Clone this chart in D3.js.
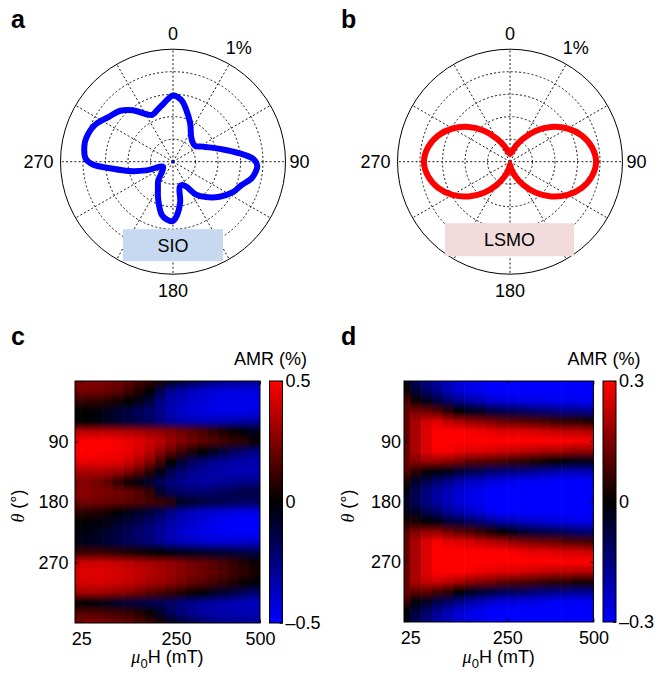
<!DOCTYPE html>
<html><head><meta charset="utf-8">
<script src="https://cdn.jsdelivr.net/npm/d3@7"></script>
<style>
body{margin:0;background:#fff}
svg{display:block}
text{font-family:"Liberation Sans",Arial,Helvetica,sans-serif;fill:#000}
</style>
</head><body>
<svg id="chart" width="661" height="676"></svg>
<script>
// ---------------- DATA ----------------
// polar panels (angle in degrees, clockwise from top; AMR in %)
const ringValues = [0.2, 0.4, 0.6, 0.8];
const ringMax = 1;
const ringLabel = "1%";
const angleTicks = [0, 90, 180, 270];

const sioAngles = [0, 8, 14, 24, 35, 43, 54, 63, 70, 78, 84, 88, 93, 97, 102, 109, 117, 127, 137, 145,
  152, 158, 165, 170, 176, 180, 186, 192, 201, 210, 218, 225, 243, 252, 258, 264, 268, 272, 280, 285,
  295, 305, 314, 322, 330, 336, 343, 350, 356];
const sioValues = [0.589, 0.55, 0.48, 0.375, 0.28, 0.25, 0.24, 0.295, 0.366, 0.49, 0.625, 0.714, 0.75, 0.74, 0.714, 0.643, 0.598, 0.518, 0.43, 0.357,
  0.25, 0.223, 0.232, 0.366, 0.482, 0.527, 0.518, 0.482, 0.366, 0.268, 0.214, 0.147, 0.10, 0.25, 0.40, 0.56, 0.714, 0.777, 0.80, 0.80,
  0.768, 0.696, 0.652, 0.58, 0.49, 0.455, 0.48, 0.518, 0.563];

const lsmoAngles = [0, 10, 20, 30, 40, 50, 60, 70, 80, 90, 100, 110, 120, 130, 140, 150, 160, 170,
  180, 190, 200, 210, 220, 230, 240, 250, 260, 270, 280, 290, 300, 310, 320, 330, 340, 350];
const lsmoValues = [0.07, 0.09, 0.15, 0.24, 0.36, 0.48, 0.59, 0.68, 0.74, 0.765, 0.74, 0.68, 0.59, 0.48, 0.36, 0.24, 0.14, 0.07,
  0.03, 0.07, 0.14, 0.24, 0.36, 0.48, 0.59, 0.68, 0.74, 0.765, 0.74, 0.68, 0.59, 0.48, 0.36, 0.24, 0.15, 0.09];

// heat maps: field column edges (mT), angle rows (deg), AMR in 0.01 %
const fieldEdges = [0, 25, 50, 75, 100, 125, 150, 175, 200, 225, 250, 281.25, 312.5, 343.75, 375, 406.25, 437.5, 468.75, 500];
const fieldTicks = [25, 250, 500];
const thetaRows = [0, 15, 30, 45, 60, 75, 90, 105, 120, 135, 150, 165, 180, 195, 210, 225, 240, 255, 270, 285, 300, 315, 330, 345, 360];
const thetaTicks = [90, 180, 270];

const amrSIO = [
  [25, 22, 10, 0, 0, 35, 48, 50, 45, 32, 24, 26, 22, 8, 0, -3, -4, 10, 38, 42, 40, 30, 0, 15, 25],
  [26, 23, 10, 0, 0, 36, 50, 50, 46, 33, 25, 27, 23, 8, 0, -4, -5, 12, 40, 44, 42, 32, 0, 16, 26],
  [25, 22, 9, -2, -3, 36, 50, 50, 46, 34, 22, 25, 22, 6, -2, -6, -8, 12, 40, 44, 42, 32, -2, 15, 25],
  [24, 20, 7, -6, -6, 36, 50, 49, 45, 32, 18, 24, 21, 4, -4, -9, -11, 10, 40, 43, 41, 30, -5, 14, 24],
  [22, 18, 4, -10, -9, 35, 48, 48, 44, 30, 10, 22, 20, 0, -8, -13, -14, 8, 38, 42, 40, 28, -8, 12, 22],
  [18, 12, 0, -14, -12, 34, 46, 46, 40, 25, 2, 20, 18, -4, -12, -17, -17, 6, 36, 40, 38, 25, -11, 10, 20],
  [14, 6, -5, -18, -15, 32, 44, 42, 34, 18, -4, 16, 16, -8, -16, -21, -20, 4, 34, 38, 35, 22, -13, 6, 16],
  [10, 0, -12, -22, -18, 30, 40, 36, 26, 8, -10, 10, 14, -12, -20, -25, -23, 2, 32, 36, 32, 18, -15, 2, 12],
  [5, -15, -25, -28, -24, 28, 36, 28, 14, -4, -18, -8, 12, -18, -26, -30, -28, 0, 30, 33, 30, 14, -17, -8, 5],
  [-5, -28, -33, -35, -30, 25, 30, 20, 0, -15, -24, -18, 8, -26, -32, -36, -33, -3, 28, 30, 27, 10, -20, -18, -5],
  [-10, -33, -37, -39, -33, 22, 26, 12, -10, -22, -27, -20, -5, -32, -37, -40, -36, -5, 25, 27, 24, 6, -24, -24, -10],
  [-15, -37, -40, -42, -35, 18, 22, 6, -18, -27, -30, -22, -8, -36, -40, -43, -38, -6, 22, 24, 20, 2, -27, -28, -15],
  [-20, -40, -42, -44, -36, 14, 19, 0, -23, -30, -32, -22, -12, -39, -43, -45, -40, -8, 20, 22, 17, -2, -30, -31, -20],
  [-24, -42, -44, -45, -36, 10, 16, -6, -27, -32, -32, -20, -14, -41, -46, -47, -41, -9, 17, 19, 14, -6, -32, -33, -24],
  [-27, -43, -45, -46, -35, 6, 13, -12, -30, -34, -30, -18, -15, -43, -48, -48, -41, -10, 14, 16, 10, -10, -34, -34, -27],
  [-28, -44, -46, -46, -34, 2, 10, -18, -32, -35, -28, -16, -17, -44, -49, -49, -41, -12, 10, 12, 6, -14, -35, -35, -28],
  [-29, -44, -46, -46, -33, -2, 8, -22, -33, -35, -27, -14, -18, -45, -50, -49, -40, -13, 6, 9, 2, -18, -36, -35, -29],
  [-30, -44, -46, -45, -32, -6, 2, -26, -34, -35, -26, -13, -19, -45, -50, -49, -39, -14, 2, 5, -2, -22, -37, -35, -30]
];

const amrLSMO = [
  [-3, 2, 9, 12, 12, 12, 12, 12, 12, 10, 3, -2, -5, -2, 3, 10, 12, 12, 12, 12, 12, 12, 6, -1, -3],
  [-10, -6, 2, 14, 20, 20, 20, 20, 16, 5, -5, -9, -10, -5, 3, 15, 20, 20, 20, 20, 20, 11, -1, -7, -10],
  [-15, -12, -3, 13, 24, 26, 26, 26, 18, 1, -9, -15, -15, -10, 0, 17, 26, 26, 26, 26, 23, 11, -4, -12, -15],
  [-19, -16, -7, 10, 26, 30, 30, 29, 18, -1, -13, -19, -19, -13, -2, 17, 29, 30, 30, 30, 24, 8, -9, -17, -19],
  [-22, -21, -12, 5, 22, 30, 30, 29, 16, -3, -16, -22, -22, -18, -6, 14, 27, 30, 30, 30, 22, 5, -12, -21, -22],
  [-25, -25, -16, 0, 20, 30, 30, 27, 14, -6, -20, -25, -25, -21, -8, 11, 26, 30, 30, 30, 20, 0, -16, -25, -25],
  [-27, -27, -19, -3, 17, 29, 30, 26, 11, -9, -23, -27, -27, -24, -11, 9, 25, 30, 30, 29, 17, -3, -19, -27, -27],
  [-28, -28, -21, -4, 16, 28, 30, 26, 10, -10, -24, -28, -28, -26, -14, 6, 23, 30, 30, 28, 15, -6, -22, -28, -28],
  [-30, -30, -24, -8, 14, 27, 30, 25, 9, -13, -26, -30, -30, -29, -17, 3, 21, 30, 30, 27, 14, -8, -24, -30, -30],
  [-30, -30, -25, -9, 12, 26, 30, 24, 8, -14, -27, -30, -30, -30, -20, 0, 20, 30, 30, 26, 11, -10, -26, -30, -30],
  [-30, -30, -26, -10, 11, 26, 30, 23, 6, -15, -28, -30, -30, -30, -21, -3, 17, 29, 30, 26, 10, -11, -26, -30, -30],
  [-30, -30, -27, -11, 10, 26, 30, 22, 5, -16, -29, -30, -30, -30, -23, -6, 15, 28, 30, 25, 9, -12, -27, -30, -30],
  [-30, -30, -27, -13, 9, 25, 30, 21, 3, -17, -29, -30, -30, -30, -24, -8, 14, 27, 30, 24, 8, -14, -27, -30, -30],
  [-30, -30, -27, -14, 8, 24, 30, 20, 2, -19, -29, -30, -30, -30, -25, -9, 13, 27, 30, 23, 6, -15, -28, -30, -30],
  [-30, -30, -28, -15, 6, 23, 30, 20, 0, -20, -30, -30, -30, -30, -26, -10, 12, 26, 30, 22, 5, -16, -29, -30, -30],
  [-30, -30, -28, -16, 5, 22, 30, 18, -1, -21, -30, -30, -30, -30, -26, -11, 10, 25, 30, 22, 5, -16, -29, -30, -30],
  [-30, -30, -28, -16, 5, 22, 29, 17, -3, -21, -30, -30, -30, -30, -27, -13, 9, 25, 30, 21, 3, -17, -29, -30, -30],
  [-30, -30, -29, -17, 3, 21, 29, 17, -3, -21, -30, -30, -30, -30, -27, -14, 8, 24, 30, 21, 3, -17, -29, -30, -30]
];

// ---------------- DRAWING ----------------
const svg = d3.select("#chart");
const FONT = 18;
const rad = d => d * Math.PI / 180;

function panelLetter(t, x, y) {
  svg.append("text").attr("x", x).attr("y", y).attr("font-size", 25).attr("font-weight", "bold").text(t);
}

function polarPanel(cfg) {
  const {cx, cy, R, angles, values, color, label, boxFill, box} = cfg;
  const g = svg.append("g").attr("transform", `translate(${cx},${cy})`);
  const r = d3.scaleLinear().domain([0, ringMax]).range([0, R]);
  const dotted = sel => sel.attr("fill", "none").attr("stroke", "#000").attr("stroke-width", 0.9).attr("stroke-dasharray", "2,2.2");
  ringValues.forEach(v => g.append("circle").attr("r", r(v)).call(dotted));
  d3.range(0, 360, 30).forEach(a => {
    g.append("line").attr("x1", 0).attr("y1", 0)
      .attr("x2", r(ringMax) * Math.sin(rad(a))).attr("y2", -r(ringMax) * Math.cos(rad(a))).call(dotted);
  });
  g.append("circle").attr("r", r(ringMax)).attr("fill", "none").attr("stroke", "#000").attr("stroke-width", 1);
  // label box
  g.append("rect").attr("x", box[0]).attr("y", box[1]).attr("width", box[2]).attr("height", box[3]).attr("fill", boxFill);
  g.append("text").attr("x", box[0] + box[2] / 2).attr("y", box[1] + box[3] / 2).attr("dy", "0.36em")
    .attr("text-anchor", "middle").attr("font-size", FONT).text(label);
  // curve
  const pts = angles.map((a, i) => [rad(a), r(values[i])]);
  const line = d3.lineRadial().angle(d => d[0]).radius(d => d[1]).curve(d3.curveCatmullRomClosed.alpha(0.5));
  g.append("path").attr("d", line(pts)).attr("fill", "none").attr("stroke", color)
    .attr("stroke-width", 6).attr("stroke-linejoin", "round");
  g.append("circle").attr("r", 1.4).attr("fill", color);
  // angle labels
  const lab = (t, x, y, anchor) => g.append("text").attr("x", x).attr("y", y).attr("text-anchor", anchor).attr("font-size", FONT).text(t);
  lab(String(angleTicks[0]), 0, -R - 9, "middle");
  lab(String(angleTicks[1]), R + 4, 6.6, "start");
  lab(String(angleTicks[2]), 0, R + 23, "middle");
  lab(String(angleTicks[3]), -R - 7, 6.6, "end");
  // ring label at 30 deg
  const lr = R + 19;
  g.append("text").attr("x", lr * Math.sin(rad(30))).attr("y", -lr * Math.cos(rad(30))).attr("dy", "0.36em")
    .attr("text-anchor", "middle").attr("font-size", FONT).text(ringLabel);
}

polarPanel({cx: 173, cy: 161.7, R: 112.5, angles: sioAngles, values: sioValues, color: "#0000ff",
  label: "SIO", boxFill: "#c6d9f0", box: [-50, 67.5, 100, 32]});
polarPanel({cx: 510, cy: 161.7, R: 112.5, angles: lsmoAngles, values: lsmoValues, color: "#ff0000",
  label: "LSMO", boxFill: "#f2dcdb", box: [-65, 61.5, 129, 33]});
panelLetter("a", 11, 28);
panelLetter("b", 341, 28);

function heatPanel(cfg) {
  const {id, left, top, width, height, matrix, vmax, yPad, cbLeft, cbWidth, cbTicks, cbLabels, ylabX} = cfg;
  const w0 = 6.3, cw = (width - w0) / 17;
  const x = d3.scaleLinear().domain([0, 25, 250, 500]).range([left, left + w0, left + w0 + 9 * cw, left + width]);
  const y = d3.scaleLinear().domain([0, 360]).range([top, top + height]);
  const color = d3.scaleLinear().domain([-vmax, 0, vmax]).range(["#0000ff", "#000000", "#ff0000"]);
  const defs = svg.append("defs");
  matrix.forEach((col, i) => {
    const gid = `${id}c${i}`;
    const grad = defs.append("linearGradient").attr("id", gid).attr("x1", 0).attr("y1", 0).attr("x2", 0).attr("y2", 1);
    col.forEach((v, j) => grad.append("stop").attr("offset", thetaRows[j] / 360).attr("stop-color", color(v / 100)));
    const xa = x(fieldEdges[i]), xb = x(fieldEdges[i + 1]);
    svg.append("rect").attr("x", xa).attr("y", y(0)).attr("width", xb - xa + (i < matrix.length - 1 ? 0.6 : 0))
      .attr("height", y(360) - y(0)).attr("fill", `url(#${gid})`);
  });
  const styleAxis = g => { g.select(".domain").remove(); g.attr("font-size", FONT).attr("font-family", null); g.selectAll("line").attr("stroke-width", 0.8); };
  svg.append("g").attr("transform", `translate(${left},0)`)
    .call(d3.axisLeft(y).tickValues(thetaTicks).tickSize(-3.5).tickPadding(yPad)).call(styleAxis);
  svg.append("g").attr("transform", `translate(${left + width},0)`)
    .call(d3.axisRight(y).tickValues(thetaTicks).tickSize(-3.5).tickFormat("")).call(styleAxis);
  svg.append("g").attr("transform", `translate(0,${top + height})`)
    .call(d3.axisBottom(x).tickValues(fieldTicks).tickSize(-3.5).tickPadding(9).tickFormat(d3.format("d"))).call(styleAxis);
  svg.append("g").attr("transform", `translate(0,${top})`)
    .call(d3.axisTop(x).tickValues(fieldTicks).tickSize(-3.5).tickFormat("")).call(styleAxis);
  svg.append("rect").attr("x", left).attr("y", top).attr("width", width).attr("height", height)
    .attr("fill", "none").attr("stroke", "#000").attr("stroke-width", 1);
  // colorbar
  const cbg = defs.append("linearGradient").attr("id", `${id}cb`).attr("x1", 0).attr("y1", 0).attr("x2", 0).attr("y2", 1);
  [vmax, 0, -vmax].forEach((v, j) => cbg.append("stop").attr("offset", j / 2).attr("stop-color", color(v)));
  const cy = d3.scaleLinear().domain([-vmax, vmax]).range([top + height, top]);
  svg.append("rect").attr("x", cbLeft).attr("y", top).attr("width", cbWidth).attr("height", height)
    .attr("fill", `url(#${id}cb)`).attr("stroke", "#000").attr("stroke-width", 1);
  svg.append("g").attr("transform", `translate(${cbLeft + cbWidth},0)`)
    .call(d3.axisRight(cy).tickValues(cbTicks).tickSize(-3).tickPadding(3).tickFormat((d, i) => cbLabels[i])).call(styleAxis);
  svg.append("text").attr("x", cbLeft + 1).attr("y", top - 16).attr("text-anchor", "middle").attr("font-size", FONT).text("AMR (%)");
  // axis labels
  const xl = svg.append("text").attr("x", left + width / 2).attr("y", 663).attr("text-anchor", "middle").attr("font-size", FONT);
  xl.append("tspan").attr("font-family", "'Liberation Serif','Times New Roman',serif").attr("font-style", "italic").text("\u03bc");
  xl.append("tspan").attr("font-size", 13).attr("dy", 5).text("0");
  xl.append("tspan").attr("dy", -5).text("H (mT)");
  const yl = svg.append("text").attr("transform", `translate(${ylabX},506) rotate(-90)`).attr("text-anchor", "middle").attr("font-size", FONT);
  yl.append("tspan").attr("font-family", "'Liberation Serif','Times New Roman',serif").attr("font-style", "italic").text("\u03b8");
  yl.append("tspan").text(" (\u00b0)");
}

heatPanel({id: "c", left: 75, top: 381, width: 185, height: 242, matrix: amrSIO, vmax: 0.5, yPad: 6.5,
  cbLeft: 269.5, cbWidth: 13, cbTicks: [-0.5, 0, 0.5], cbLabels: ["\u20130.5", "0", "0.5"], ylabX: 24});
heatPanel({id: "d", left: 404, top: 381, width: 189.5, height: 241, matrix: amrLSMO, vmax: 0.3, yPad: 3,
  cbLeft: 603, cbWidth: 13, cbTicks: [-0.3, 0, 0.3], cbLabels: ["\u20130.3", "0", "0.3"], ylabX: 354});
panelLetter("c", 11, 345);
panelLetter("d", 341, 345);
</script>
</body></html>
